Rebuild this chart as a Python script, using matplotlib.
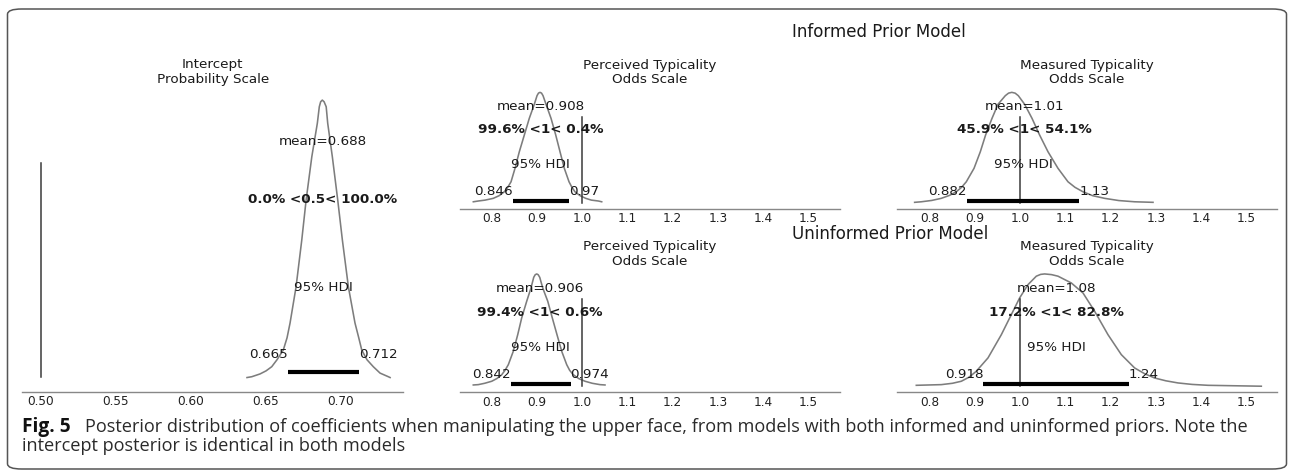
import matplotlib
matplotlib.use('Agg')
import matplotlib.pyplot as plt
from matplotlib.patches import FancyBboxPatch

W, H = 1290, 470

# Intercept, probability scale (identical in both models)
int_x = [0.6375, 0.6407, 0.6462, 0.6502, 0.6540, 0.6575, 0.6617, 0.6642, 0.6662, 0.6702, 0.6740,
         0.6769, 0.6807, 0.6844, 0.6857, 0.6866, 0.6877, 0.6889, 0.6903, 0.6913, 0.6944, 0.6980,
         0.7011, 0.7051, 0.7095, 0.7120, 0.7140, 0.7175, 0.7217, 0.7262, 0.7317, 0.7329]
int_dens = [0.002, 0.005, 0.015, 0.026, 0.041, 0.066, 0.101, 0.145, 0.198, 0.328, 0.496,
            0.640, 0.796, 0.917, 0.976, 0.994, 1.000, 0.994, 0.976, 0.917, 0.796, 0.640,
            0.496, 0.328, 0.198, 0.145, 0.101, 0.066, 0.041, 0.018, 0.005, 0.002]
int_mean = 0.688
int_hdi = [0.665, 0.712]
int_ref = 0.5
int_pct = [0.0, 100.0]

# Perceived typicality, informed prior (odds scale)
pt_inf_x = [0.7589, 0.7699, 0.7850, 0.8031, 0.8160, 0.8274, 0.8350, 0.8423, 0.8511, 0.8606, 0.8717,
            0.8827, 0.8938, 0.8998, 0.9030, 0.9064, 0.9098, 0.9131, 0.9197, 0.9308, 0.9412, 0.9507,
            0.9602, 0.9706, 0.9770, 0.9838, 0.9950, 1.0075, 1.0200, 1.0354, 1.0429]
pt_inf_dens = [0.015, 0.022, 0.030, 0.046, 0.070, 0.105, 0.145, 0.195, 0.316, 0.465, 0.616,
               0.766, 0.893, 0.970, 0.993, 1.000, 0.993, 0.970, 0.893, 0.766, 0.616, 0.465,
               0.316, 0.195, 0.145, 0.105, 0.070, 0.046, 0.030, 0.022, 0.015]
pt_inf_mean = 0.908
pt_inf_hdi = [0.846, 0.97]
pt_inf_pct = [99.6, 0.4]

# Measured typicality, informed prior
mt_inf_x = [0.7662, 0.7810, 0.8040, 0.8252, 0.8430, 0.8584, 0.8700, 0.8805, 0.8976, 0.9115, 0.9232,
            0.9374, 0.9507, 0.9668, 0.9740, 0.9812, 0.9885, 0.9956, 1.0095, 1.0259, 1.0427, 1.0613,
            1.0834, 1.1055, 1.1210, 1.1387, 1.1600, 1.1865, 1.2180, 1.2529, 1.2936]
mt_inf_dens = [0.010, 0.015, 0.027, 0.046, 0.072, 0.105, 0.145, 0.195, 0.316, 0.465, 0.616,
               0.766, 0.893, 0.970, 0.993, 1.000, 0.993, 0.970, 0.893, 0.766, 0.616, 0.465,
               0.316, 0.195, 0.145, 0.105, 0.070, 0.046, 0.026, 0.015, 0.010]
mt_inf_mean = 1.01
mt_inf_hdi = [0.882, 1.13]
mt_inf_pct = [45.9, 54.1]

# Perceived typicality, uninformed prior
pt_uni_x = [0.7588, 0.7699, 0.7840, 0.7996, 0.8110, 0.8217, 0.8290, 0.8363, 0.8473, 0.8571, 0.8659,
            0.8770, 0.8865, 0.8925, 0.8958, 0.8991, 0.9024, 0.9058, 0.9124, 0.9235, 0.9336, 0.9440,
            0.9544, 0.9655, 0.9720, 0.9801, 0.9920, 1.0060, 1.0220, 1.0392, 1.0502]
pt_uni_dens = [0.015, 0.018, 0.030, 0.048, 0.072, 0.106, 0.145, 0.195, 0.314, 0.461, 0.610,
               0.758, 0.876, 0.970, 0.993, 1.000, 0.993, 0.970, 0.876, 0.758, 0.610, 0.461,
               0.314, 0.195, 0.145, 0.106, 0.072, 0.048, 0.030, 0.018, 0.015]
pt_uni_mean = 0.906
pt_uni_hdi = [0.842, 0.974]
pt_uni_pct = [99.4, 0.6]

# Measured typicality, uninformed prior
mt_uni_x = [0.7699, 0.8252, 0.8500, 0.8695, 0.8870, 0.9027, 0.9285, 0.9580, 0.9801, 0.9985, 1.0170,
            1.0354, 1.0450, 1.0538, 1.0690, 1.0834, 1.1128, 1.1387, 1.1644, 1.1940, 1.2235, 1.2529,
            1.2750, 1.2971, 1.3220, 1.3489, 1.3800, 1.4153, 1.5332]
mt_uni_dens = [0.012, 0.018, 0.030, 0.048, 0.085, 0.137, 0.255, 0.461, 0.639, 0.787, 0.905,
               0.980, 0.996, 1.000, 0.994, 0.980, 0.920, 0.831, 0.669, 0.461, 0.284, 0.166,
               0.115, 0.077, 0.052, 0.033, 0.020, 0.012, 0.004]
mt_uni_mean = 1.08
mt_uni_hdi = [0.918, 1.24]
mt_uni_pct = [17.2, 82.8]

odds_ref = 1

prob_ticks = [0.50, 0.55, 0.60, 0.65, 0.70]
prob_ticklabels = ['0.50', '0.55', '0.60', '0.65', '0.70']
odds_ticks = [0.8, 0.9, 1.0, 1.1, 1.2, 1.3, 1.4, 1.5]
odds_ticklabels = ['0.8', '0.9', '1.0', '1.1', '1.2', '1.3', '1.4', '1.5']

TXT = '#1a1a1a'
FS = 9.7


def px_rect(x0, x1, ytop, ybot):
    return [x0 / W, 1 - ybot / H, (x1 - x0) / W, (ybot - ytop) / H]


def fmt(v):
    return '{:.3g}'.format(v)


def posterior(ax, x, dens, mean, hdi, ref, pct, title, ticks, ticklabels, xlim):
    ax.plot(x, dens, color='#7d7d7d', lw=1.15, solid_joinstyle='round')
    ax.set_ylim(-0.05, 1.05)
    ax.set_xlim(*xlim)
    h = 1.05  # top of the y range, like arviz' plot_height
    ax.axvline(ref, ymin=0.05, ymax=0.75, color='#3a3a3a', lw=1.1)
    ax.text(mean, 0.8 * h, 'mean=' + fmt(mean), ha='center', fontsize=FS, color=TXT)
    ax.text(mean, 0.6 * h, '{:.1f}% <{}< {:.1f}%'.format(pct[0], fmt(ref), pct[1]),
            ha='center', fontsize=FS, weight='bold', color=TXT)
    ax.plot(hdi, [0.02 * h, 0.02 * h], color='k', lw=3, solid_capstyle='butt')
    ax.text(hdi[0], 0.07 * h, fmt(hdi[0]), ha='right', fontsize=FS, color=TXT)
    ax.text(hdi[1], 0.07 * h, fmt(hdi[1]), ha='left', fontsize=FS, color=TXT)
    ax.text((hdi[0] + hdi[1]) / 2, 0.3 * h, '95% HDI', ha='center', fontsize=FS, color=TXT)
    ax.set_title(title, fontsize=FS, color=TXT, pad=2.5, linespacing=1.15)
    for s in ['left', 'right', 'top']:
        ax.spines[s].set_visible(False)
    ax.spines['bottom'].set_color('#888888')
    ax.spines['bottom'].set_linewidth(1.0)
    ax.set_yticks([])
    ax.set_xticks(ticks)
    ax.set_xticklabels(ticklabels)
    ax.tick_params(axis='x', length=0, pad=2.5, labelsize=8.7, labelcolor='#222222')


fig = plt.figure(figsize=(W / 100, H / 100), dpi=100)

odds_lim = (0.7294, 1.5701)
odds_lim_r = (0.7272, 1.5679)

ax0 = fig.add_axes(px_rect(22.3, 403.3, 86.2, 392))
posterior(ax0, int_x, int_dens, int_mean, int_hdi, int_ref, int_pct,
          'Intercept\nProbability Scale', prob_ticks, prob_ticklabels, (0.4877, 0.7417))

ax1 = fig.add_axes(px_rect(460, 840, 86.8, 209))
posterior(ax1, pt_inf_x, pt_inf_dens, pt_inf_mean, pt_inf_hdi, odds_ref, pt_inf_pct,
          'Perceived Typicality\nOdds Scale', odds_ticks, odds_ticklabels, odds_lim)

ax2 = fig.add_axes(px_rect(897, 1277, 86.8, 209))
posterior(ax2, mt_inf_x, mt_inf_dens, mt_inf_mean, mt_inf_hdi, odds_ref, mt_inf_pct,
          'Measured Typicality\nOdds Scale', odds_ticks, odds_ticklabels, odds_lim_r)

ax3 = fig.add_axes(px_rect(460, 840, 268.3, 392.3))
posterior(ax3, pt_uni_x, pt_uni_dens, pt_uni_mean, pt_uni_hdi, odds_ref, pt_uni_pct,
          'Perceived Typicality\nOdds Scale', odds_ticks, odds_ticklabels, odds_lim)

ax4 = fig.add_axes(px_rect(897, 1277, 268.3, 392.3))
posterior(ax4, mt_uni_x, mt_uni_dens, mt_uni_mean, mt_uni_hdi, odds_ref, mt_uni_pct,
          'Measured Typicality\nOdds Scale', odds_ticks, odds_ticklabels, odds_lim_r)

fig.text(792 / W, 1 - 32.3 / H, 'Informed Prior Model', ha='left', va='center', fontsize=12, color=TXT)
fig.text(792 / W, 1 - 234 / H, 'Uninformed Prior Model', ha='left', va='center', fontsize=12, color=TXT)

# caption
fig.text(22.3 / W, 1 - 432 / H, 'Fig. 5', ha='left', va='baseline', fontsize=13.8,
         weight='bold', family='Open Sans', color='#111111')
fig.text(85 / W, 1 - 432 / H,
         'Posterior distribution of coefficients when manipulating the upper face, from models with '
         'both informed and uninformed priors. Note the',
         ha='left', va='baseline', fontsize=13.1, family='Open Sans', color='#2a2a2a')
fig.text(22.3 / W, 1 - 451 / H, 'intercept posterior is identical in both models',
         ha='left', va='baseline', fontsize=13.1, family='Open Sans', color='#2a2a2a')

box = FancyBboxPatch((7.5 / W, 1 - 469 / H), (1286.5 - 7.5) / W, (469 - 9) / H,
                     boxstyle='round,pad=0,rounding_size=0.011',
                     transform=fig.transFigure, fill=False, edgecolor='#555555', lw=1.1)
fig.patches.append(box)

fig.savefig('out.png', dpi=100)
